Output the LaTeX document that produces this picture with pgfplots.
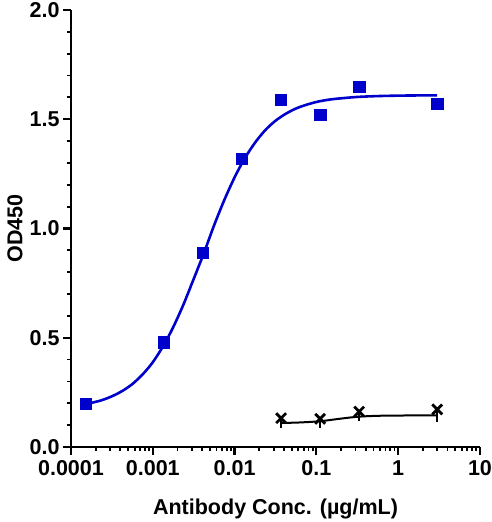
\documentclass[border=0pt]{standalone}
\usepackage{fontspec}
\setmainfont{Liberation Sans}
\usepackage{pgfplots}
\pgfplotsset{compat=1.18}
\definecolor{prismblue}{RGB}{0,0,204}

\begin{document}
\begin{tikzpicture}
\begin{axis}[
    scale only axis,
    width=409pt, height=437pt,
    xmode=log,
    xmin=1e-4, xmax=10,
    ymin=0, ymax=2,
    axis lines=left,
    axis line style={-, line width=2.2pt},
    xtick={1e-4,1e-3,1e-2,1e-1,1,10},
    xticklabels={0.0001,0.001,0.01,0.1,1,10},
    ytick={0,0.5,1,1.5,2},
    yticklabels={0.0,0.5,1.0,1.5,2.0},
    minor ytick={0.1,0.2,0.3,0.4,0.6,0.7,0.8,0.9,1.1,1.2,1.3,1.4,1.6,1.7,1.8,1.9},
    tick align=outside,
    major tick length=8pt,
    minor tick length=4pt,
    every major tick/.style={line width=2.2pt, black},
    every minor tick/.style={line width=1.8pt, black},
    tick label style={font=\bfseries\fontsize{21.5}{25}\selectfont},
    xticklabel style={yshift=-2pt},
    label style={font=\bfseries\fontsize{21.5}{25}\selectfont},
    xlabel={Antibody Conc. (µg/mL)},
    xlabel style={yshift=-16pt},
    ylabel={OD450},
    clip=false,
]
% fitted curve, target
\addplot[prismblue, line width=2.6pt, smooth] coordinates {
 (0.000152,0.196) (0.000178,0.202) (0.000237,0.214) (0.000316,0.232)
 (0.000422,0.256) (0.000562,0.288) (0.00075,0.332) (0.001,0.388)
 (0.00137,0.468) (0.00178,0.549) (0.00237,0.652) (0.00316,0.769)
 (0.00422,0.888) (0.00562,1.015) (0.0075,1.131) (0.01,1.234)
 (0.0133,1.321) (0.0178,1.393) (0.0237,1.450) (0.0316,1.493)
 (0.0422,1.525) (0.0562,1.549) (0.075,1.566) (0.1,1.579)
 (0.133,1.588) (0.178,1.594) (0.316,1.602) (0.562,1.606)
 (1,1.608) (1.78,1.609) (3,1.609)};
\addplot[only marks, mark=square*, mark size=5.6pt, prismblue] coordinates {
 (0.000152,0.20) (0.00137,0.48) (0.00412,0.89) (0.0123,1.32)
 (0.037,1.59) (0.111,1.52) (0.333,1.65) (3,1.57)};
% control
\addplot[black, line width=2pt, smooth] coordinates {
 (0.037,0.110) (0.06,0.112) (0.111,0.118) (0.2,0.130)
 (0.333,0.139) (0.6,0.143) (1,0.144) (3,0.145)};
\addplot[only marks, mark=x, mark size=7pt, black, line width=2.8pt,
    error bars/.cd, y dir=minus, y explicit, error mark=none,
    error bar style={line width=2pt}] coordinates {
 (0.037,0.132) -= (0,0.045)
 (0.111,0.129) -= (0,0.040)
 (0.333,0.162) -= (0,0.042)
 (3,0.172) -= (0,0.058)};
\end{axis}
\pgfresetboundingbox
\path (-71pt,-75pt) rectangle (421pt,447pt);
\end{tikzpicture}
\end{document}
